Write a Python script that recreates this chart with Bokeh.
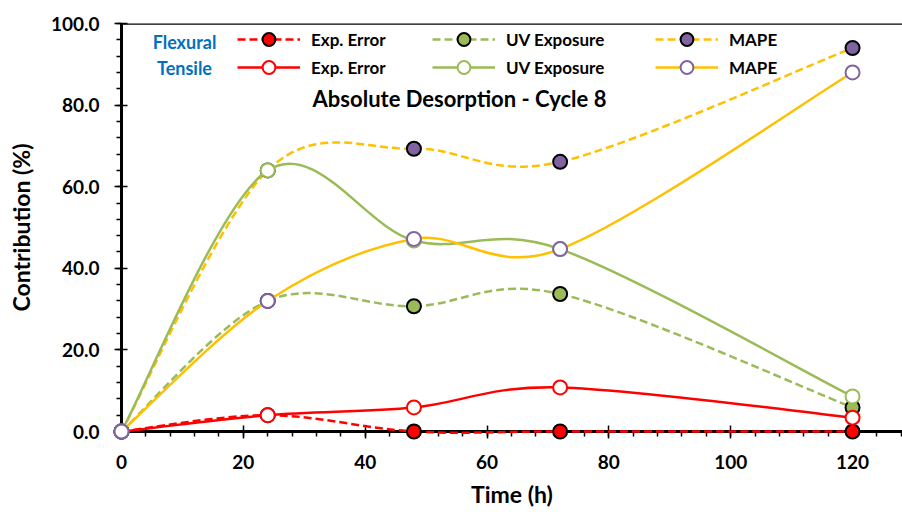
import numpy as np
from bokeh.plotting import figure
from bokeh.models import (ColumnDataSource, FixedTicker, PrintfTickFormatter, Range1d,
                          Legend, LegendItem, Label, Span)
from bokeh.embed import file_html
from bokeh.resources import INLINE

# Sampling times (h)
time_h = [0, 24, 48, 72, 120]

# Flexural contributions (%)
flex_exp_error = [0.0, 4.0, 0.0, 0.0, 0.0]
flex_uv = [0.0, 32.0, 30.7, 33.7, 5.9]
flex_mape = [0.0, 64.0, 69.3, 66.1, 94.0]

# Tensile contributions (%)
tens_exp_error = [0.0, 4.0, 5.9, 10.8, 3.4]
tens_uv = [0.0, 64.0, 46.8, 44.7, 8.6]
tens_mape = [0.0, 32.0, 47.2, 44.7, 88.0]

series_names = ["Exp. Error", "UV Exposure", "MAPE"]
x_major = [0, 20, 40, 60, 80, 100, 120]
y_major = [0, 20, 40, 60, 80, 100]

RED = "#FF0000"
GREEN = "#9BBB59"
GOLD = "#FFC000"
PURPLE = "#8064A2"
BLUE = "#0070C0"
FONT = "Lato"

W, H = 902, 512
LEFT, RIGHT, TOP, BOTTOM = 121, 0, 23, 81
X_END = 128.2
FRAME_W = W - LEFT - RIGHT
FRAME_H = H - TOP - BOTTOM

p = figure(width=W, height=H, x_range=Range1d(0, X_END), y_range=Range1d(0, 100),
           output_backend="svg", toolbar_location=None,
           min_border_left=LEFT, min_border_right=RIGHT,
           min_border_top=TOP, min_border_bottom=BOTTOM)
p.outline_line_color = None
p.grid.visible = False
p.background_fill_color = "white"
p.border_fill_color = "white"

for ax, ticks, minor in ((p.xaxis[0], x_major, list(range(0, 129, 4))),
                         (p.yaxis[0], y_major, list(range(0, 101, 4)))):
    ax.ticker = FixedTicker(ticks=ticks, minor_ticks=minor)
    ax.axis_line_width = 3
    ax.axis_line_color = "black"
    ax.major_tick_line_width = 1.5
    ax.minor_tick_line_width = 1.5
    ax.major_tick_in = 6
    ax.major_tick_out = 7
    ax.minor_tick_in = 0
    ax.minor_tick_out = 5
    ax.major_label_text_font = FONT
    ax.major_label_text_font_style = "bold"
    ax.major_label_text_font_size = "19px"
    ax.major_label_text_color = "black"
    ax.axis_label_text_font = FONT
    ax.axis_label_text_font_style = "bold"
    ax.axis_label_text_font_size = "23px"
    ax.axis_label_text_color = "black"
p.yaxis[0].formatter = PrintfTickFormatter(format="%.1f")
p.yaxis[0].major_label_standoff = 15
p.xaxis[0].major_label_standoff = 16
p.xaxis[0].axis_label = "Time (h)"
p.yaxis[0].axis_label = "Contribution (%)"
p.xaxis[0].axis_label_standoff = 8
p.yaxis[0].axis_label_standoff = 13

# Top border of the plot area
p.add_layout(Span(location=100, dimension="width", line_color="black", line_width=2.5))

SX = FRAME_W / X_END
SY = FRAME_H / 100.0


def smooth_segments(xs, ys):
    """Cubic Bezier pieces through the points (Catmull-Rom style smoothing)."""
    px = np.asarray(xs, float) * SX
    py = np.asarray(ys, float) * SY
    n = len(px)
    seg = {k: [] for k in ("x0", "y0", "x1", "y1", "cx0", "cy0", "cx1", "cy1")}
    for i in range(n - 1):
        i0, i3 = max(i - 1, 0), min(i + 2, n - 1)
        p0 = np.array([px[i0], py[i0]])
        p1 = np.array([px[i], py[i]])
        p2 = np.array([px[i + 1], py[i + 1]])
        p3 = np.array([px[i3], py[i3]])
        d12 = np.hypot(*(p2 - p1))
        d02 = np.hypot(*(p2 - p0))
        d13 = np.hypot(*(p3 - p1))
        f1 = min(1 / 6, d12 / (2 * d02)) if d02 > 0 else 0
        f2 = min(1 / 6, d12 / (2 * d13)) if d13 > 0 else 0
        c1 = p1 + f1 * (p2 - p0)
        c2 = p2 - f2 * (p3 - p1)
        seg["x0"].append(p1[0] / SX); seg["y0"].append(p1[1] / SY)
        seg["x1"].append(p2[0] / SX); seg["y1"].append(p2[1] / SY)
        seg["cx0"].append(c1[0] / SX); seg["cy0"].append(c1[1] / SY)
        seg["cx1"].append(c2[0] / SX); seg["cy1"].append(c2[1] / SY)
    return seg


def add_series(ys, line_color, dash, fill, outline):
    src = ColumnDataSource(smooth_segments(time_h, ys))
    curve = p.bezier(x0="x0", y0="y0", x1="x1", y1="y1", cx0="cx0", cy0="cy0",
                     cx1="cx1", cy1="cy1", source=src, line_color=line_color,
                     line_width=2.5, line_dash=dash, level="overlay")
    pts = p.scatter(time_h, ys, size=14, marker="circle", fill_color=fill,
                    line_color=outline, line_width=2, level="overlay")
    return [curve, pts]


DASH = "8 4"
flex_r = [add_series(flex_exp_error, RED, DASH, RED, "black"),
          add_series(flex_uv, GREEN, DASH, GREEN, "black"),
          add_series(flex_mape, GOLD, DASH, PURPLE, "black")]
tens_r = [add_series(tens_exp_error, RED, "solid", "white", RED),
          add_series(tens_uv, GREEN, "solid", "white", GREEN),
          add_series(tens_mape, GOLD, "solid", "white", PURPLE)]

# Legend: three columns, flexural row on top, tensile row below
col_left = [237, 432, 655]
row_center = [39, 67]
GLYPH_H = 32
for c in range(3):
    for r, group in enumerate((flex_r, tens_r)):
        bottom = row_center[r] + GLYPH_H / 2
        leg = Legend(items=[LegendItem(label=series_names[c], renderers=group[c])],
                     location=(col_left[c] - LEFT, (H - BOTTOM) - bottom),
                     padding=0, margin=0, spacing=0,
                     glyph_width=63, glyph_height=GLYPH_H, label_standoff=11,
                     label_height=GLYPH_H,
                     label_text_font=FONT, label_text_font_style="bold",
                     label_text_font_size="17px", label_text_color="black",
                     border_line_color=None, background_fill_alpha=0)
        p.add_layout(leg)


def frame_label(text, cx, cy, size, color="black"):
    p.add_layout(Label(x=cx - LEFT, y=(H - BOTTOM) - cy, x_units="screen", y_units="screen",
                       text=text, text_font=FONT, text_font_style="bold",
                       text_font_size=size, text_color=color,
                       text_align="center", text_baseline="middle"))


frame_label("Flexural", 184, 41, "18px", BLUE)
frame_label("Tensile", 184, 67, "18px", BLUE)
frame_label("Absolute Desorption - Cycle 8", 459, 98, "22px")

open("out.html", "w").write(file_html(p, INLINE))
